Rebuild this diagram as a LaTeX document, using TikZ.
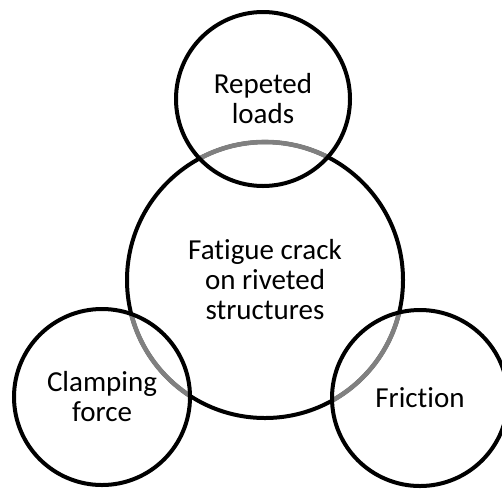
\documentclass[tikz,border=0pt]{standalone}
\usepackage{fontspec}
\setmainfont[Ligatures={NoCommon}]{Carlito}
\definecolor{arcgray}{RGB}{128,128,128}
\tikzset{
  bubble/.style={circle, draw=black, line width=4pt, inner sep=0pt, align=center,
    font=\fontsize{29}{30}\selectfont},
}
\begin{document}
\begin{tikzpicture}[x=1pt,y=1pt]
\useasboundingbox (0,0) rectangle (502,-488);
% central circle
\node[bubble, minimum size=276pt] (mid) at (265,-280) {Fatigue crack\\on riveted\\structures};
% gray arcs of the central circle inside the small circles
\begin{scope}
  \clip (263,-99) circle (87pt);
  \draw[arcgray, line width=4.6pt] (mid.center) circle (138pt);
\end{scope}
\begin{scope}
  \clip (102,-397) circle (88pt);
  \draw[arcgray, line width=4.6pt] (mid.center) circle (138pt);
\end{scope}
\begin{scope}
  \clip (420,-398) circle (88pt);
  \draw[arcgray, line width=4.6pt] (mid.center) circle (138pt);
\end{scope}
% small circles
\node[bubble, minimum size=174pt] (rep) at (263,-99) {Repeted\\loads};
\node[bubble, minimum size=176pt] (clamp) at (102,-397) {Clamping\\force};
\node[bubble, minimum size=176pt] (fric) at (420,-398) {Friction};
\end{tikzpicture}
\end{document}
